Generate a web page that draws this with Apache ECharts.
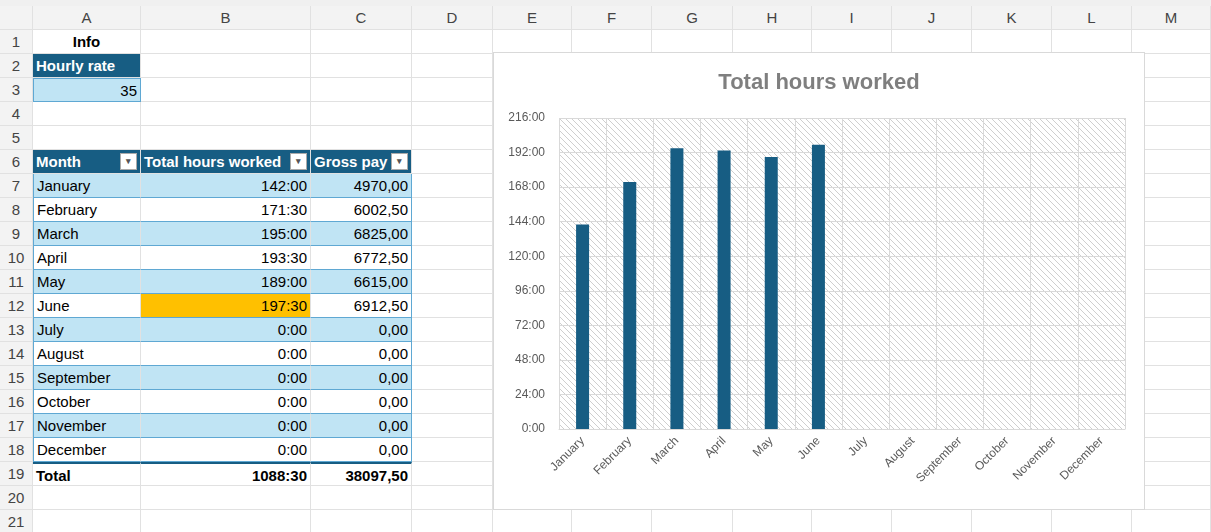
<!DOCTYPE html>
<html>
<head>
<meta charset="utf-8">
<script src="https://cdn.jsdelivr.net/npm/echarts@6/dist/echarts.min.js"></script>
<style>
  body { margin: 0; width: 1211px; height: 532px; overflow: hidden; background: #fff;
         font-family: "Liberation Sans", Arial, sans-serif; font-size: 15px; color: #000; }
  .c { position: absolute; box-sizing: border-box; border-right: 1px solid #e1e1e1;
       border-bottom: 1px solid #e1e1e1; padding: 0 3px; line-height: 23px; white-space: nowrap; overflow: hidden; }
  .hd { background: #f3f3f3; color: #444; text-align: center; }
  #chart { position: absolute; left: 493px; top: 52px; width: 652px; height: 458px;
           background: #fff; border: 1px solid #d9d9d9; box-sizing: border-box; }
</style>
</head>
<body>
<div id="sheet"></div>
<div id="chart"></div>
<script>
// ---------------------------------------------------------------------------
// Data
// ---------------------------------------------------------------------------
const months      = ["January","February","March","April","May","June","July","August","September","October","November","December"];
const hoursLabels = ["142:00","171:30","195:00","193:30","189:00","197:30","0:00","0:00","0:00","0:00","0:00","0:00"];
const hours       = [142, 171.5, 195, 193.5, 189, 197.5, 0, 0, 0, 0, 0, 0];
const grossPay    = ["4970,00","6002,50","6825,00","6772,50","6615,00","6912,50","0,00","0,00","0,00","0,00","0,00","0,00"];
const colLetters  = ["A","B","C","D","E","F","G","H","I","J","K","L","M"];

// ---------------------------------------------------------------------------
// Spreadsheet grid
// ---------------------------------------------------------------------------
const colX  = [33, 141, 311, 412, 493, 572, 652, 733, 812, 892, 972, 1052, 1132, 1211];
const rowY  = (r) => 30 + (r - 1) * 24;
const sheet = document.getElementById("sheet");

function cell(x, y, w, h, text, style = "", cls = "c") {
  const d = document.createElement("div");
  d.className = cls;
  d.style.cssText = `left:${x}px;top:${y}px;width:${w}px;height:${h}px;${style}`;
  d.textContent = text;
  sheet.appendChild(d);
  return d;
}

cell(0, 0, 1211, 6, "", "background:#f0f0f0;border:none");
cell(0, 6, 33, 24, "", "", "c hd");
colLetters.forEach((l, i) => cell(colX[i], 6, colX[i + 1] - colX[i], 24, l, "", "c hd"));
for (let r = 1; r <= 21; r++) {
  cell(0, rowY(r), 33, 24, r, "", "c hd");
  for (let i = 0; i < 13; i++) cell(colX[i], rowY(r), colX[i + 1] - colX[i], 24, "");
}

const dark = "background:#175d83;color:#fff;font-weight:bold;";
const light = "background:#c0e4f4;";
cell(33, rowY(1), 108, 24, "Info", "font-weight:bold;text-align:center");
cell(33, rowY(2), 108, 24, "Hourly rate", dark);
cell(33, rowY(3), 108, 24, "35", light + "text-align:right;border:1px solid #5fa8d3");

const heads = ["Month", "Total hours worked", "Gross pay"];
heads.forEach((h, i) => {
  const d = cell(colX[i], rowY(6), colX[i + 1] - colX[i], 24, h, dark);
  const b = document.createElement("span");
  b.style.cssText = "position:absolute;right:3px;top:3px;width:17px;height:17px;background:#fff;border:1px solid #aaa;box-sizing:border-box;font-size:9px;line-height:15px;text-align:center;color:#555";
  b.textContent = "▾";
  d.appendChild(b);
});

months.forEach((m, k) => {
  const r = 7 + k;
  const bg = k % 2 === 0 ? light : "background:#fff;";
  const bd = "border-bottom:1px solid #5fa8d3;";
  cell(33, rowY(r), 108, 24, m, bg + bd + "border-left:1px solid #5fa8d3");
  cell(141, rowY(r), 170, 24, hoursLabels[k], (k === 5 ? "background:#ffc000;" : bg) + bd + "text-align:right");
  cell(311, rowY(r), 101, 24, grossPay[k], bg + bd + "text-align:right;border-right:1px solid #5fa8d3");
});
cell(33, rowY(19), 108, 24, "Total", "font-weight:bold;border-top:2px solid #175d83");
cell(141, rowY(19), 170, 24, "1088:30", "font-weight:bold;text-align:right;border-top:2px solid #175d83");
cell(311, rowY(19), 101, 24, "38097,50", "font-weight:bold;text-align:right;border-top:2px solid #175d83");

// ---------------------------------------------------------------------------
// Hatch pattern for the plot area
// ---------------------------------------------------------------------------
const pat = document.createElement("canvas");
pat.width = pat.height = 6;
const ctx = pat.getContext("2d");
ctx.strokeStyle = "#cfcfcf";
ctx.lineWidth = 1;
ctx.beginPath();
ctx.moveTo(-1, -1); ctx.lineTo(7, 7);
ctx.moveTo(-1, 5); ctx.lineTo(1, 7);
ctx.moveTo(5, -1); ctx.lineTo(7, 1);
ctx.stroke();

// ---------------------------------------------------------------------------
// Chart
// ---------------------------------------------------------------------------
const chart = echarts.init(document.getElementById("chart"));
const fmt = (v) => `${Math.floor(v)}:${String(Math.round((v % 1) * 60)).padStart(2, "0")}`;

chart.setOption({
  animation: false,
  title: {
    text: "Total hours worked",
    left: "center",
    top: 14,
    textStyle: { color: "#7f7f7f", fontSize: 22, fontWeight: "bold", fontFamily: "Liberation Sans" },
  },
  grid: { left: 65, right: 19, top: 65, bottom: 80, show: true, borderWidth: 0,
          backgroundColor: { image: pat, repeat: "repeat" } },
  xAxis: {
    type: "category",
    data: months,
    axisLine: { lineStyle: { color: "#d9d9d9" } },
    axisTick: { show: false },
    splitLine: { show: true, lineStyle: { color: "#d9d9d9" } },
    axisLabel: { rotate: 45, color: "#595959", fontSize: 12, interval: 0, margin: 10 },
  },
  yAxis: {
    type: "value",
    min: 0, max: 216, interval: 24,
    axisLabel: { color: "#595959", fontSize: 12, formatter: fmt, margin: 14 },
    splitLine: { lineStyle: { color: "#d9d9d9" } },
  },
  series: [{
    type: "bar",
    data: hours,
    barWidth: 13,
    itemStyle: { color: "#175d83" },
  }],
});
</script>
</body>
</html>
